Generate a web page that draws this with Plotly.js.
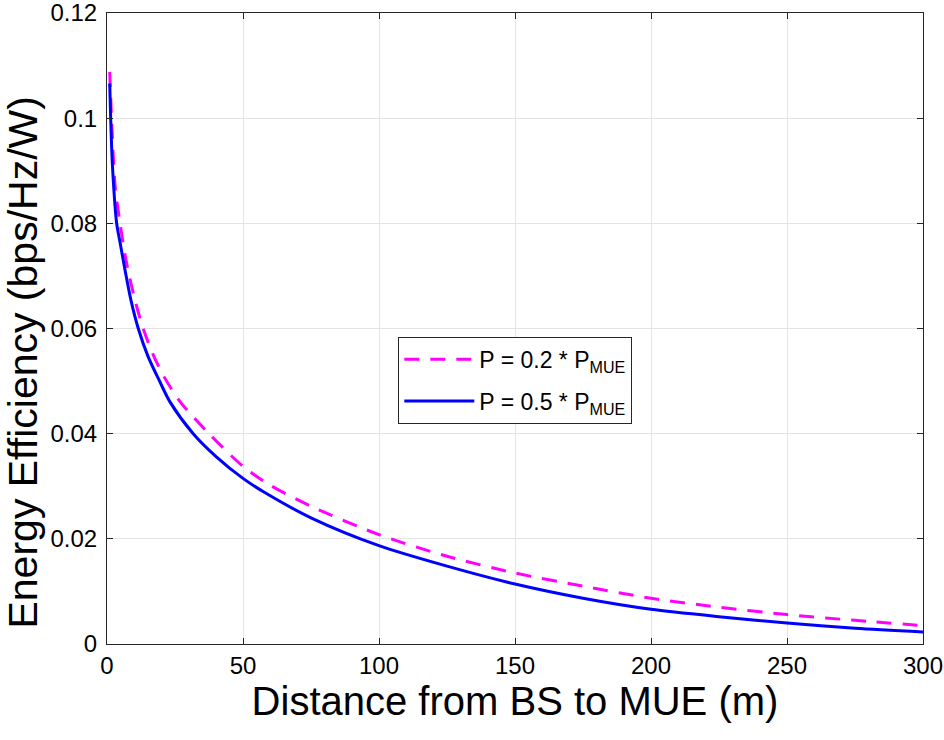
<!DOCTYPE html>
<html>
<head>
<meta charset="utf-8">
<script src="https://cdn.plot.ly/plotly-3.0.1.min.js"></script>
<style>html,body{margin:0;padding:0;background:#fff;}#chart{width:944px;height:740px;}</style>
</head>
<body>
<div id="chart"></div>
<script>
// Distance (m) and energy efficiency (bps/Hz/W)
const distA = [1, 1.5, 2, 3, 4.8, 7, 10, 13.3, 17, 21, 27, 37.5, 50, 60, 75, 100, 125, 150, 175, 200, 225, 250, 275, 300];
const eeA   = [0.1088, 0.102, 0.096, 0.087, 0.080, 0.073, 0.066, 0.060, 0.055, 0.0508, 0.046, 0.040, 0.0338, 0.0302, 0.0262, 0.0208, 0.0167, 0.0135, 0.0110, 0.0087, 0.0070, 0.0056, 0.0045, 0.0035];
const distB = [1, 1.35, 2, 3.55, 5, 6.6, 8.8, 11.5, 15, 19.5, 23.2, 31.7, 40, 50, 58, 75, 100, 125, 150, 175, 200, 225, 250, 275, 300];
const eeB   = [0.1066, 0.100, 0.091, 0.080, 0.0758, 0.0712, 0.0654, 0.060, 0.0548, 0.0498, 0.046, 0.040, 0.0357, 0.0315, 0.0288, 0.0240, 0.0187, 0.0148, 0.0114, 0.0087, 0.0066, 0.0052, 0.0040, 0.0030, 0.0023];
const seriesNames = ['P = 0.2 * P<sub>MUE</sub>', 'P = 0.5 * P<sub>MUE</sub>'];
const xTicks = [0, 50, 100, 150, 200, 250, 300];
const yTicks = [0, 0.02, 0.04, 0.06, 0.08, 0.1, 0.12];
const yTickText = ['0', '0.02', '0.04', '0.06', '0.08', '0.1', '0.12'];
const xTitle = 'Distance from BS to MUE (m)';
const yTitle = 'Energy Efficiency (bps/Hz/W)';

const font = 'Liberation Sans, Arial, Helvetica, sans-serif';
const traces = [
  {x: distA, y: eeA, type: 'scatter', mode: 'lines', name: seriesNames[0], legendgroup: 'a',
   line: {color: '#ff00ff', width: 3, dash: '15px,11px', shape: 'spline', smoothing: 0.8}},
  {x: distB, y: eeB, type: 'scatter', mode: 'lines', name: seriesNames[1], legendgroup: 'b',
   line: {color: '#0000ff', width: 3, shape: 'spline', smoothing: 0.8}}
];
const axisCommon = {
  showline: true, mirror: 'ticks', linecolor: '#262626', linewidth: 1,
  ticks: 'inside', ticklen: 6, tickcolor: '#262626',
  showgrid: true, gridcolor: '#e3e3e3', gridwidth: 1, zeroline: false,
  ticklabeloverflow: 'allow',
  tickfont: {family: font, size: 24, color: '#000'}
};
const layout = {
  width: 944, height: 740,
  margin: {l: 107, r: 21, t: 13, b: 96},
  paper_bgcolor: '#fff', plot_bgcolor: '#fff',
  showlegend: true,
  xaxis: Object.assign({}, axisCommon, {
    range: [0, 300], tickvals: xTicks, ticktext: xTicks.map(String),
    title: {text: xTitle, font: {family: font, size: 40, color: '#000'}, standoff: 4}
  }),
  yaxis: Object.assign({}, axisCommon, {
    range: [0, 0.120001], tickvals: yTicks, ticktext: yTickText, ticklabelstandoff: 4
  }),
  annotations: [{
    text: yTitle, textangle: -90, xref: 'paper', yref: 'paper',
    x: -0.103, y: 0.446, xanchor: 'center', yanchor: 'middle', showarrow: false,
    font: {family: font, size: 41, color: '#000'}
  }],
  legend: {
    x: 0.357, y: 0.487, xanchor: 'left', yanchor: 'top',
    bgcolor: '#fff', bordercolor: '#262626', borderwidth: 1,
    font: {family: font, size: 23, color: '#000'},
    itemwidth: 70, tracegroupgap: 9
  }
};
Plotly.newPlot('chart', traces, layout, {displayModeBar: false, staticPlot: true});
</script>
</body>
</html>
